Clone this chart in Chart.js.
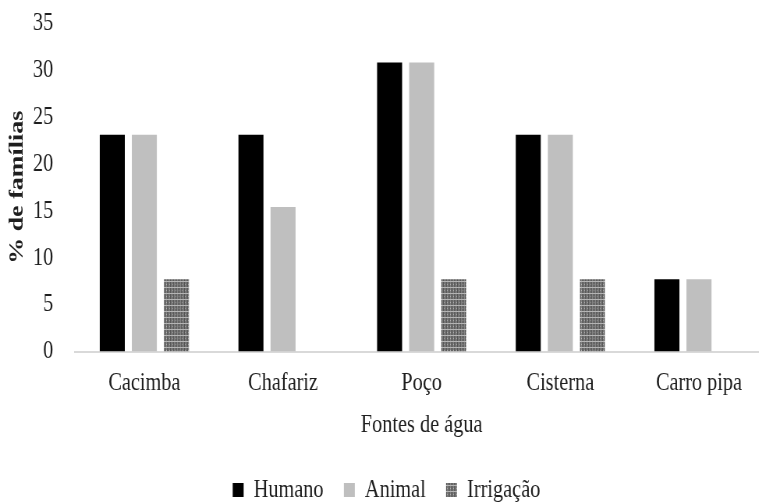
<!DOCTYPE html>
<html lang="pt">
<head>
<meta charset="UTF-8">
<title>Fontes de água</title>
<script src="https://cdn.jsdelivr.net/npm/chart.js"></script>
<style>
    html, body { margin: 0; padding: 0; background: #fff; overflow: hidden; }
    #wrap { width: 759px; height: 503px; overflow: hidden; }
    /* narrow serif look: draw wide, squeeze horizontally */
    #chart { transform: scaleX(0.78); transform-origin: 0 0; }
</style>
</head>
<body>
<div id="wrap"><canvas id="chart" width="985" height="503"></canvas></div>
<script>
    const fontes = ['Cacimba', 'Chafariz', 'Poço', 'Cisterna', 'Carro pipa'];
    const humano = [23.1, 23.1, 30.8, 23.1, 7.7];
    const animal = [23.1, 15.4, 30.8, 23.1, 7.7];
    const irrigacao = [7.7, 0, 7.7, 7.7, 0];
    const yTicks = [0, 5, 10, 15, 20, 25, 30, 35];

    // dotted grey texture used for the irrigation bars
    function makePattern() {
        const p = document.createElement('canvas');
        p.width = 4; p.height = 6;
        const c = p.getContext('2d');
        c.fillStyle = '#858585';
        c.fillRect(0, 0, 4, 6);
        c.fillStyle = '#555555';
        c.fillRect(0, 0, 1, 6);
        c.fillRect(2, 0, 1, 6);
        c.fillStyle = '#b4b4b4';
        c.fillRect(0, 5, 4, 1);
        c.fillRect(1, 2, 1, 1);
        return document.getElementById('chart').getContext('2d').createPattern(p, 'repeat');
    }

    const font = { family: '"Liberation Serif", "Times New Roman", serif', size: 26 };
    const textColor = '#1e1e1e';

    new Chart(document.getElementById('chart'), {
        type: 'bar',
        data: {
            labels: fontes,
            datasets: [
                { label: 'Humano', data: humano, backgroundColor: '#000000' },
                { label: 'Animal', data: animal, backgroundColor: '#bfbfbf' },
                { label: 'Irrigação', data: irrigacao, backgroundColor: makePattern() }
            ]
        },
        options: {
            responsive: false,
            animation: false,
            devicePixelRatio: 1,
            categoryPercentage: 0.694,
            barPercentage: 0.78,
            layout: { padding: { top: 0, right: 0, left: 6, bottom: -10 } },
            plugins: {
                tooltip: { enabled: false },
                legend: {
                    position: 'bottom',
                    labels: {
                        font: font,
                        color: textColor,
                        boxWidth: 14,
                        boxHeight: 14,
                        padding: 26
                    }
                }
            },
            scales: {
                x: {
                    grid: { display: false, drawTicks: false },
                    border: { color: '#d9d9d9', width: 2 },
                    ticks: { font: font, color: textColor, padding: 16 },
                    title: { display: true, text: 'Fontes de água', font: font, color: textColor, padding: { top: -5, bottom: 10 } }
                },
                y: {
                    min: 0,
                    max: 35,
                    afterBuildTicks: (axis) => { axis.ticks = yTicks.map(v => ({ value: v })); },
                    // tick padding would otherwise push the plot top down
                    afterFit: (axis) => { axis.paddingTop = 23; },
                    grid: { display: false, drawTicks: false },
                    border: { display: false },
                    ticks: { font: font, color: textColor, padding: 28 },
                    title: { display: true, text: '% de famílias', font: { ...font, weight: 'bold' }, color: textColor, padding: { top: 1, bottom: -24 } }
                }
            }
        }
    });
</script>
</body>
</html>
